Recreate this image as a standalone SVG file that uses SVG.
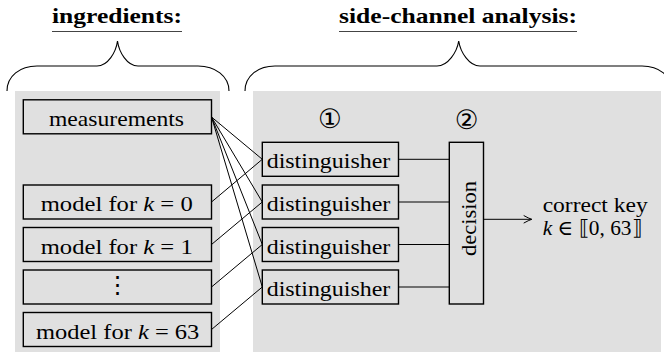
<svg xmlns="http://www.w3.org/2000/svg" width="664" height="354" viewBox="0 0 664 354">
<style>
.panel{fill:#e0e0e0;stroke:none}
.box{fill:#e0e0e0;stroke:#000;stroke-width:1.4}
.ln{fill:none;stroke:#000;stroke-width:1}
.brace{fill:none;stroke:#000;stroke-width:1.1}
.t{font-family:"Liberation Serif","Times New Roman",Tinos,"DejaVu Serif","Noto Serif",serif;font-size:21px;fill:#000}
.m{font-family:"DejaVu Serif","DejaVu Sans",serif;font-size:24px;fill:#000}
.h{font-family:"Liberation Serif","Times New Roman",Tinos,"DejaVu Serif","Noto Serif",serif;font-size:22px;font-weight:bold;fill:#000}
.ul{stroke:#444;stroke-width:1.2}
.num{font-family:"DejaVu Sans",sans-serif;font-size:26.5px;fill:#000;text-anchor:middle}
.it{font-style:italic}
</style>
<defs>
<marker id="arr" markerWidth="12" markerHeight="12" refX="10" refY="6" orient="auto" markerUnits="userSpaceOnUse">
<path d="M2,2.2 Q7,5 10,6 Q7,7 2,9.8" fill="none" stroke="#000" stroke-width="1"/>
</marker>
</defs>

<g id="titles">
<text class="h" x="52" y="23" textLength="130" lengthAdjust="spacingAndGlyphs">ingredients:</text>
<line class="ul" x1="52" y1="31.5" x2="182" y2="31.5"/>
<text class="h" x="339" y="23" textLength="238" lengthAdjust="spacingAndGlyphs">side-channel analysis:</text>
<line class="ul" x1="339" y1="31.5" x2="577" y2="31.5"/>
</g>

<g id="braces">
<path class="brace" d="M7,91 C7,76 20,66 37,66 L97,66 C108,66 116,52 117.5,41 C119,52 127,66 138,66 L198,66 C215,66 229,76 229,91"/>
<path class="brace" d="M245,91 C245,76 258,66 275,66 L437,66 C448,66 457,52 458.7,41 C460.4,52 469,66 480,66 L642,66 C659,66 672,76 672,91"/>
</g>

<g id="panels">
<rect class="panel" x="15" y="91" width="205" height="261"/>
<rect class="panel" x="253" y="91" width="408" height="261"/>
</g>

<g id="connectors">
<line class="ln" x1="211.5" y1="117" x2="262.3" y2="159.3"/>
<line class="ln" x1="211.5" y1="117" x2="262.3" y2="202"/>
<line class="ln" x1="211.5" y1="117" x2="262.3" y2="244.5"/>
<line class="ln" x1="211.5" y1="117" x2="262.3" y2="287"/>
<line class="ln" x1="211.5" y1="202" x2="262.3" y2="159.3"/>
<line class="ln" x1="211.5" y1="244.5" x2="262.3" y2="202"/>
<line class="ln" x1="211.5" y1="287" x2="262.3" y2="244.5"/>
<line class="ln" x1="211.5" y1="329.5" x2="262.3" y2="287"/>
<line class="ln" x1="398.5" y1="159.3" x2="449.3" y2="159.3"/>
<line class="ln" x1="398.5" y1="202" x2="449.3" y2="202"/>
<line class="ln" x1="398.5" y1="244.5" x2="449.3" y2="244.5"/>
<line class="ln" x1="398.5" y1="287" x2="449.3" y2="287"/>
<line class="ln" x1="483.5" y1="219.3" x2="531.7" y2="219.3" marker-end="url(#arr)"/>
</g>

<g id="measurements">
<rect class="box" x="23.3" y="99.8" width="188.2" height="34"/>
<text class="t" x="49" y="125.8" textLength="135" lengthAdjust="spacingAndGlyphs">measurements</text>
</g>
<g id="model0">
<rect class="box" x="23.3" y="185" width="188.2" height="34"/>
<text class="t" x="40.7" y="211" textLength="152" lengthAdjust="spacingAndGlyphs">model for <tspan class="it">k</tspan> = 0</text>
</g>
<g id="model1">
<rect class="box" x="23.3" y="227.5" width="188.2" height="34"/>
<text class="t" x="40.7" y="253.5" textLength="152" lengthAdjust="spacingAndGlyphs">model for <tspan class="it">k</tspan> = 1</text>
</g>
<g id="modeldots">
<rect class="box" x="23.3" y="270" width="188.2" height="34"/>
<text class="m" x="117.4" y="293" text-anchor="middle">⋮</text>
</g>
<g id="model63">
<rect class="box" x="23.3" y="312.5" width="188.2" height="34"/>
<text class="t" x="36" y="338.5" textLength="163.3" lengthAdjust="spacingAndGlyphs">model for <tspan class="it">k</tspan> = 63</text>
</g>

<g id="step1"><text class="num" x="330" y="128.4">①</text></g>
<g id="step2"><text class="num" x="466.7" y="129.4">②</text></g>

<g id="dist1">
<rect class="box" x="262.3" y="142.3" width="136.2" height="34"/>
<text class="t" x="266.7" y="168.3" textLength="123.6" lengthAdjust="spacingAndGlyphs">distinguisher</text>
</g>
<g id="dist2">
<rect class="box" x="262.3" y="185" width="136.2" height="34"/>
<text class="t" x="266.7" y="211" textLength="123.6" lengthAdjust="spacingAndGlyphs">distinguisher</text>
</g>
<g id="dist3">
<rect class="box" x="262.3" y="227.5" width="136.2" height="34"/>
<text class="t" x="266.7" y="253.5" textLength="123.6" lengthAdjust="spacingAndGlyphs">distinguisher</text>
</g>
<g id="dist4">
<rect class="box" x="262.3" y="270" width="136.2" height="34"/>
<text class="t" x="266.7" y="296" textLength="123.6" lengthAdjust="spacingAndGlyphs">distinguisher</text>
</g>

<g id="decision">
<rect class="box" x="449.3" y="142.3" width="34.2" height="161.7"/>
<text class="t" transform="translate(475.5,218.5) rotate(-90)" x="0" y="0" text-anchor="middle" textLength="75" lengthAdjust="spacingAndGlyphs">decision</text>
</g>

<g id="output">
<text class="t" x="542.7" y="211.5" textLength="105" lengthAdjust="spacingAndGlyphs">correct key</text>
<text class="t" x="542.7" y="235" textLength="99" lengthAdjust="spacingAndGlyphs"><tspan class="it">k</tspan> ∈ ⟦0, 63⟧</text>
</g>
</svg>
